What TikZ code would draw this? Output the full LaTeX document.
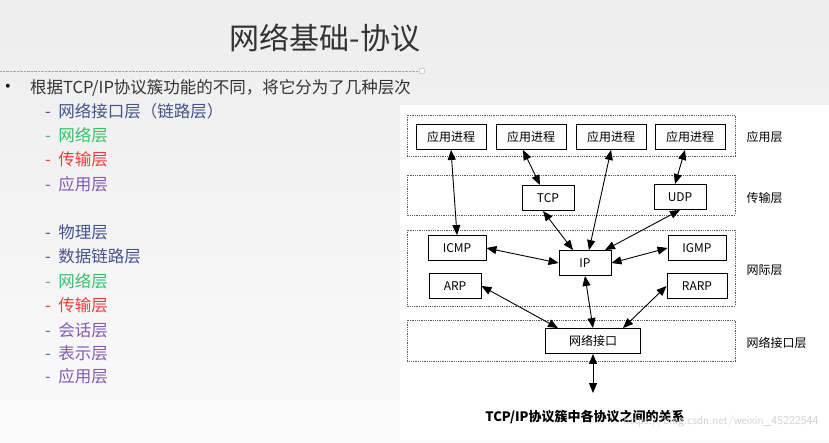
\documentclass[tikz,border=0pt]{standalone}
\usepackage{fontspec}
\setmainfont{Liberation Serif}
\newfontfamily\cjk{Noto Sans CJK SC}
\usetikzlibrary{arrows.meta}
\definecolor{cblue}{RGB}{68,84,140}
\definecolor{cgreen}{RGB}{60,190,110}
\definecolor{cred}{RGB}{240,60,60}
\definecolor{cpurp}{RGB}{130,90,180}
\tikzset{
 layer/.style={draw=gray!70!black,densely dotted,line width=0.8pt},
 pbox/.style={draw,line width=0.9pt,fill=white,minimum height=25pt,inner sep=2pt,font=\cjk\fontsize{12}{12}\selectfont},
 lbl/.style={font=\cjk\fontsize{12}{12}\selectfont,anchor=west},
 con/.style={{Triangle[length=10pt,width=8pt]}-{Triangle[length=10pt,width=8pt]},line width=0.9pt},
 item/.style={anchor=west,font=\cjk\fontsize{16.5}{16.5}\selectfont,inner sep=0pt}
}
\begin{document}
\begin{tikzpicture}[x=1pt,y=-1pt]
\useasboundingbox (0,0) rectangle (829,442);
\shade[top color=gray!14,bottom color=gray!4] (0,0) rectangle (829,442);
\node[font=\cjk\fontsize{30}{30}\selectfont,text=black!80] (title) at (325,38) {网络基础-协议};
\draw[gray!70,densely dotted] (0,71) -- (422,71);
\draw[gray!70,fill=white] (422,71) circle (3pt);
\node[font=\fontsize{16}{16}\selectfont] (bul) at (8,88) {•};
\node[item,text=black!80] (b0) at (30,88) {根据TCP/IP协议簇功能的不同，将它分为了几种层次};
\node[item,text=cblue] (a1) at (45,111) {-\ \ 网络接口层（链路层）};
\node[item,text=cgreen] (a2) at (45,135) {-\ \ 网络层};
\node[item,text=cred] (a3) at (45,159) {-\ \ 传输层};
\node[item,text=cpurp] (a4) at (45,184) {-\ \ 应用层};
\node[item,text=cblue] (c1) at (45,232) {-\ \ 物理层};
\node[item,text=cblue] (c2) at (45,256) {-\ \ 数据链路层};
\node[item,text=cgreen] (c3) at (45,281) {-\ \ 网络层};
\node[item,text=cred] (c4) at (45,305) {-\ \ 传输层};
\node[item,text=cpurp] (c5) at (45,330) {-\ \ 会话层};
\node[item,text=cpurp] (c6) at (45,353) {-\ \ 表示层};
\node[item,text=cpurp] (c7) at (45,376) {-\ \ 应用层};
% right panel
\fill[white] (400,105) rectangle (829,440);
\draw[layer] (407,115) rectangle (735,156);
\draw[layer] (407,175) rectangle (735,215);
\draw[layer] (407,230) rectangle (735,306);
\draw[layer] (407,320) rectangle (735,361);
\node[pbox,minimum width=70pt] (p1) at (451,137) {应用进程};
\node[pbox,minimum width=70pt] (p2) at (531,137) {应用进程};
\node[pbox,minimum width=70pt] (p3) at (611,137) {应用进程};
\node[pbox,minimum width=70pt] (p4) at (690,137) {应用进程};
\node[pbox,minimum width=52pt] (tcp) at (548,198) {TCP};
\node[pbox,minimum width=52pt] (udp) at (680,197) {UDP};
\node[pbox,minimum width=58pt] (icmp) at (457,248) {ICMP};
\node[pbox,minimum width=52pt] (ip) at (585,263) {IP};
\node[pbox,minimum width=58pt] (igmp) at (697,248) {IGMP};
\node[pbox,minimum width=52pt] (arp) at (455,286) {ARP};
\node[pbox,minimum width=60pt] (rarp) at (697,286) {RARP};
\node[pbox,minimum width=95pt] (ni) at (593,341) {网络接口};
\coordinate (bot) at (593,393);
\node[lbl] (l1) at (743,137) {应用层};
\node[lbl] (l2) at (743,198) {传输层};
\node[lbl] (l3) at (743,270) {网际层};
\node[lbl] (l4) at (743,343) {网络接口层};
\node[font=\cjk\bfseries\fontsize{13}{13}\selectfont] (cap) at (585,417) {TCP/IP协议簇中各协议之间的关系};
\node[font=\sffamily\fontsize{12}{12}\selectfont,text=gray!35,anchor=east] (wm) at (822,421) {https://blog.csdn.net/weixin\_45222544};
\draw[con] (p1.south) -- (icmp.north);
\draw[con] ([xshift=-8pt]p2.south) -- ([xshift=-8pt]tcp.north);
\draw[con] (p3.south) -- ([xshift=4pt]ip.north);
\draw[con] ([xshift=-5pt]p4.south) -- ([xshift=-5pt]udp.north);
\draw[con] ([xshift=-5pt]tcp.south) -- ([xshift=-12pt]ip.north);
\draw[con] (udp.south) -- ([xshift=20pt]ip.north);
\draw[con] (icmp.east) -- (ip.west);
\draw[con] (igmp.west) -- (ip.east);
\draw[con] (arp.east) -- ([xshift=-35pt]ni.north);
\draw[con] (rarp.west) -- ([xshift=30pt]ni.north);
\draw[con] (ip.south) -- (ni.north);
\draw[con] (ni.south) -- (bot);
\end{tikzpicture}
\end{document}
